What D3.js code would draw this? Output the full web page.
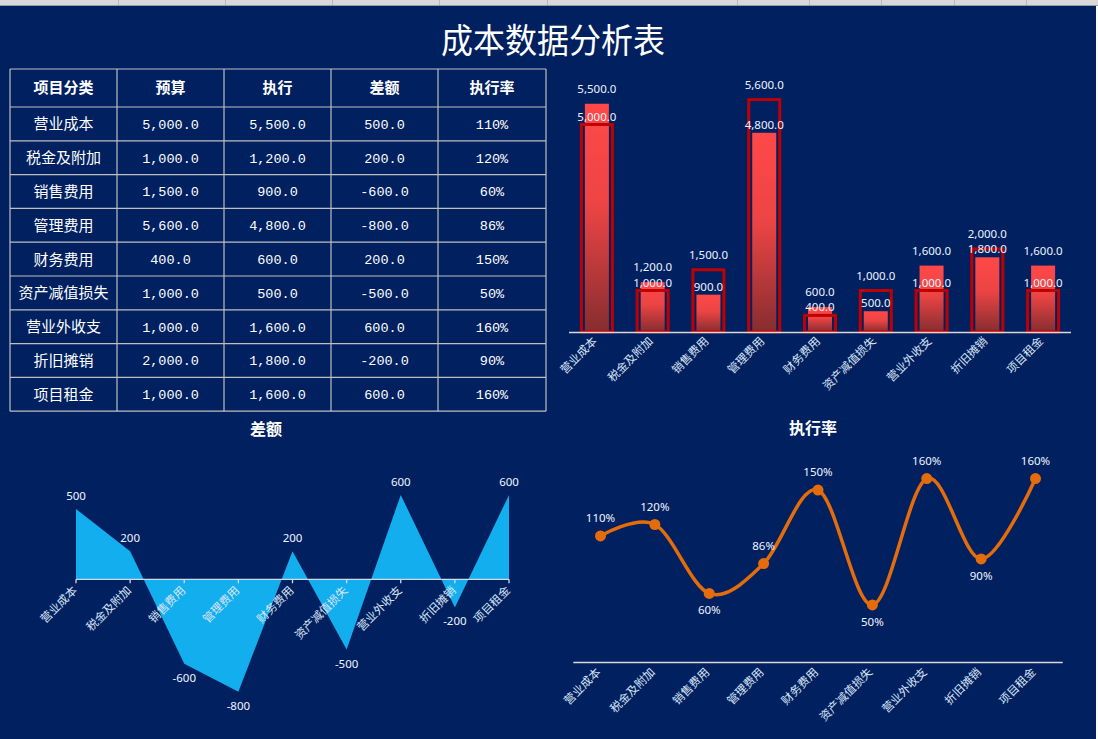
<!DOCTYPE html>
<html><head><meta charset="utf-8">
<script src="https://cdn.jsdelivr.net/npm/d3@7"></script>
<style>body{margin:0;background:#fff;} svg{display:block}</style>
</head><body><svg id="c" width="1098" height="739"></svg>
<script>
const titleText = "成本数据分析表";
const tableHeaders = ["项目分类","预算","执行","差额","执行率"];
const categories = ["营业成本","税金及附加","销售费用","管理费用","财务费用","资产减值损失","营业外收支","折旧摊销","项目租金"];
const budget = [5000,1000,1500,5600,400,1000,1000,2000,1000];
const actual = [5500,1200,900,4800,600,500,1600,1800,1600];
const diff = [500,200,-600,-800,200,-500,600,-200,600];
const rate = [110,120,60,86,150,50,160,90,160];
const diffTitle = "差额";
const rateTitle = "执行率";

const BG = "#002060";
const loc = d3.formatLocale({decimal:".",thousands:",",grouping:[3],currency:["",""],minus:"-"});
const f1 = loc.format(",.1f"), f0 = loc.format("d");
const CJK = "'Noto Sans CJK SC','Noto Sans',sans-serif";
const LAB = "'Noto Sans','Noto Sans CJK SC',sans-serif";

const svg = d3.select("#c");
svg.append("rect").attr("x",0).attr("y",0).attr("width",1096).attr("height",739).attr("fill",BG);
// top spreadsheet strip
svg.append("rect").attr("x",0).attr("y",0).attr("width",1098).attr("height",5).attr("fill","#d9d9d9");
svg.append("line").attr("x1",0).attr("x2",1098).attr("y1",5.5).attr("y2",5.5).attr("stroke","#9a9a9a");
[118,225,332,439,547,737,809,881,954,1026].forEach(x=>{
  svg.append("line").attr("x1",x+0.5).attr("x2",x+0.5).attr("y1",0).attr("y2",5).attr("stroke","#b8b8b8");
});

// title
svg.append("text").attr("x",553).attr("y",53).attr("text-anchor","middle")
  .attr("font-family",CJK).attr("font-size",32).attr("fill","#fff")
  .attr("transform","translate(553,53) scale(1,1.05) translate(-553,-53)").text(titleText);

// ---------- table ----------
const colX = [10,117,224,331,438,546];
const rowY = [69,107]; for(let i=1;i<=categories.length;i++) rowY.push(107+i*33.8);
const tbl = svg.append("g");
const rows = categories.map((c,i)=>[c,f1(budget[i]),f1(actual[i]),f1(diff[i]),rate[i]+"%"]);
tbl.selectAll("text.h").data(tableHeaders).join("text")
  .attr("x",(d,i)=>(colX[i]+colX[i+1])/2).attr("y",(rowY[0]+rowY[1])/2)
  .attr("dy","0.36em").attr("text-anchor","middle").attr("font-family",CJK)
  .attr("font-weight","bold").attr("font-size",15).attr("fill","#fff").text(d=>d);
rows.forEach((r,ri)=>{
  r.forEach((v,ci)=>{
    tbl.append("text").attr("x",(colX[ci]+colX[ci+1])/2).attr("y",(rowY[ri+1]+rowY[ri+2])/2)
      .attr("dy","0.36em").attr("text-anchor","middle")
      .attr("font-family",ci===0?CJK:"'Liberation Mono','DejaVu Sans Mono',monospace")
      .attr("font-size",ci===0?15:13.5).attr("fill","#fff").text(v);
  });
});
rowY.forEach(y=>tbl.append("line").attr("x1",colX[0]).attr("x2",colX[5]).attr("y1",y).attr("y2",y).attr("stroke","#bfbfbf").attr("stroke-width",1.2));
colX.forEach(x=>tbl.append("line").attr("x1",x).attr("x2",x).attr("y1",rowY[0]).attr("y2",rowY[rowY.length-1]).attr("stroke","#bfbfbf").attr("stroke-width",1.2));

// ---------- bar chart ----------
const defs = svg.append("defs");
const gr = defs.append("linearGradient").attr("id","barg").attr("x1",0).attr("y1",0).attr("x2",0).attr("y2",1);
gr.append("stop").attr("offset",0).attr("stop-color","#ff4848");
gr.append("stop").attr("offset",0.45).attr("stop-color","#ec4444");
gr.append("stop").attr("offset",1).attr("stop-color","#862d30");

const bx = d3.scaleBand().domain(categories).range([569,1071]);
const by = d3.scaleLinear().domain([0,6000]).range([332,83]);
const bc = d=>bx(d)+bx.bandwidth()/2;
const barG = svg.append("g");
barG.selectAll("rect.a").data(categories).join("rect")
  .attr("x",d=>bc(d)-12).attr("width",24)
  .attr("y",(d,i)=>by(actual[i])).attr("height",(d,i)=>by(0)-by(actual[i]))
  .attr("fill","url(#barg)");
barG.selectAll("rect.b").data(categories).join("rect")
  .attr("x",d=>bc(d)-15.5).attr("width",31)
  .attr("y",(d,i)=>by(budget[i])).attr("height",(d,i)=>by(0)-by(budget[i]))
  .attr("fill","none").attr("stroke","#c00000").attr("stroke-width",3);
barG.append("line").attr("x1",569).attr("x2",1071).attr("y1",332.5).attr("y2",332.5).attr("stroke","#d9d9d9").attr("stroke-width",1.5);
categories.forEach((c,i)=>{
  const hiA = actual[i]>=budget[i];
  [[actual[i],hiA],[budget[i],!hiA]].forEach(([v,hi])=>{
    barG.append("text").attr("x",bc(c)).attr("y",by(v)-(hi?15:8)).attr("dy","0.35em")
      .attr("text-anchor","middle").attr("font-family",LAB).attr("font-size",11.5)
      .attr("fill","#eef3ff").text(f1(v));
  });
});
barG.selectAll("text.x").data(categories).join("text")
  .attr("transform",d=>`translate(${bc(d)-2},339) rotate(-45)`).attr("dy","0.35em")
  .attr("text-anchor","end").attr("font-family",CJK).attr("font-size",11.5)
  .attr("fill","#dbe4f5").text(d=>d);

// ---------- area chart ----------
const ax = d3.scalePoint().domain(categories).range([76,509]);
const ay = d3.scaleLinear().domain([-1000,800]).range([719.9,466.8]);
const areaG = svg.append("g");
areaG.append("path").datum(diff)
  .attr("d",d3.area().x((d,i)=>ax(categories[i])).y0(ay(0)).y1(d=>ay(d)))
  .attr("fill","#12aeee");
areaG.append("line").attr("x1",76).attr("x2",509).attr("y1",ay(0)).attr("y2",ay(0)).attr("stroke","#d0dcec").attr("stroke-width",1.3);
areaG.selectAll("line.t").data(categories).join("line")
  .attr("x1",d=>ax(d)).attr("x2",d=>ax(d)).attr("y1",ay(0)).attr("y2",ay(0)+4)
  .attr("stroke","#d0dcec").attr("stroke-width",1.3);
areaG.selectAll("text.v").data(diff).join("text")
  .attr("x",(d,i)=>ax(categories[i])).attr("y",d=>d>=0?ay(d)-13:ay(d)+14).attr("dy","0.35em")
  .attr("text-anchor","middle").attr("font-family",LAB).attr("font-size",11.5)
  .attr("fill","#f0f4ff").text(d=>f0(d));
areaG.selectAll("text.x").data(categories).join("text")
  .attr("transform",d=>`translate(${ax(d)-1},${ay(0)+9}) rotate(-45)`).attr("dy","0.35em")
  .attr("text-anchor","end").attr("font-family",CJK).attr("font-size",11.5)
  .attr("fill","#dbe4f5").text(d=>d);
areaG.append("text").attr("x",266).attr("y",429).attr("dy","0.35em").attr("text-anchor","middle")
  .attr("font-family",CJK).attr("font-weight","bold").attr("font-size",16).attr("fill","#fff").text(diffTitle);

// ---------- line chart ----------
const lx = d3.scaleBand().domain(categories).range([573.3,1062.7]);
const lc = d=>lx(d)+lx.bandwidth()/2;
const ly = d3.scaleLinear().domain([0,180]).range([662.3,455.6]);
const lineG = svg.append("g");
lineG.append("line").attr("x1",573.3).attr("x2",1062.7).attr("y1",662.5).attr("y2",662.5).attr("stroke","#d9d9d9").attr("stroke-width",1.3);
lineG.append("path").datum(rate)
  .attr("d",d3.line().x((d,i)=>lc(categories[i])).y(d=>ly(d)).curve(d3.curveCatmullRom.alpha(0)))
  .attr("fill","none").attr("stroke","#e46c0a").attr("stroke-width",3.5);
lineG.selectAll("circle").data(rate).join("circle")
  .attr("cx",(d,i)=>lc(categories[i])).attr("cy",d=>ly(d)).attr("r",5.5).attr("fill","#e46c0a");
const isMin = (i)=> i>0 && i<rate.length-1 && rate[i]<rate[i-1] && rate[i]<rate[i+1];
lineG.selectAll("text.v").data(rate).join("text")
  .attr("x",(d,i)=>lc(categories[i])).attr("y",(d,i)=>isMin(i)?ly(d)+17:ly(d)-18).attr("dy","0.35em")
  .attr("text-anchor","middle").attr("font-family",LAB).attr("font-size",11.5)
  .attr("fill","#f0f4ff").text(d=>d+"%");
lineG.selectAll("text.x").data(categories).join("text")
  .attr("transform",d=>`translate(${lc(d)-2},670) rotate(-45)`).attr("dy","0.35em")
  .attr("text-anchor","end").attr("font-family",CJK).attr("font-size",11.5)
  .attr("fill","#dbe4f5").text(d=>d);
lineG.append("text").attr("x",813).attr("y",428).attr("dy","0.35em").attr("text-anchor","middle")
  .attr("font-family",CJK).attr("font-weight","bold").attr("font-size",16).attr("fill","#fff").text(rateTitle);
</script></body></html>
